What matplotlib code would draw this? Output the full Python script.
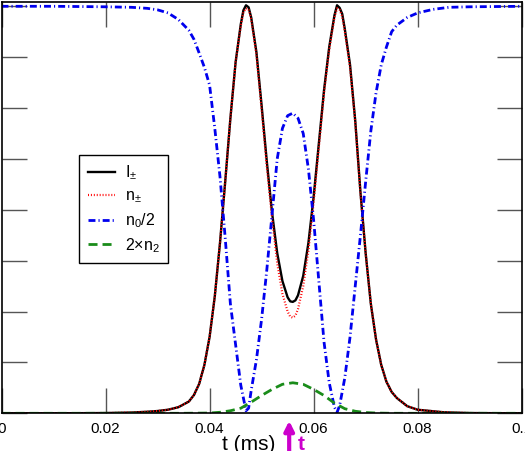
import matplotlib
matplotlib.use("Agg")
import matplotlib.pyplot as plt

plt.rcParams['font.family'] = ['Liberation Sans', 'DejaVu Sans']
plt.rcParams['mathtext.fontset'] = 'custom'
plt.rcParams['mathtext.rm'] = 'Liberation Sans'
plt.rcParams['mathtext.it'] = 'Liberation Sans:italic'
plt.rcParams['mathtext.bf'] = 'Liberation Sans:bold'
plt.rcParams['lines.scale_dashes'] = False

# time axis (ms) for I and n
t_I = [0, 0.01, 0.02, 0.025, 0.028, 0.030, 0.032, 0.034, 0.036, 0.037, 0.038, 0.039,
       0.040, 0.041, 0.042, 0.043, 0.044, 0.045, 0.046, 0.0465, 0.047, 0.0475, 0.048,
       0.049, 0.050, 0.051, 0.052, 0.053, 0.054, 0.055, 0.0555, 0.056, 0.0565, 0.057,
       0.058, 0.059, 0.060, 0.061, 0.062, 0.063, 0.064, 0.0645, 0.065, 0.0655, 0.066,
       0.067, 0.068, 0.069, 0.070, 0.071, 0.072, 0.073, 0.074, 0.075, 0.076, 0.078,
       0.080, 0.085, 0.09, 0.1]
I_pm = [0, 0, 0.005, 0.015, 0.03, 0.045, 0.07, 0.12, 0.23, 0.36, 0.58, 0.95,
        1.5, 2.3, 3.35, 4.55, 5.8, 6.9, 7.65, 7.92, 8.02, 7.98, 7.78,
        7.1, 6.05, 4.95, 3.95, 3.15, 2.6, 2.28, 2.2, 2.19, 2.22, 2.32,
        2.7, 3.35, 4.25, 5.3, 6.35, 7.2, 7.82, 8.02, 7.97, 7.85, 7.55,
        6.85, 5.75, 4.35, 3.15, 2.15, 1.45, 0.95, 0.62, 0.42, 0.3, 0.14,
        0.07, 0.02, 0.005, 0]
n_pm = [0, 0, 0.005, 0.015, 0.03, 0.045, 0.07, 0.12, 0.23, 0.36, 0.58, 0.95,
        1.5, 2.3, 3.35, 4.55, 5.8, 6.9, 7.62, 7.88, 7.96, 7.94, 7.75,
        7.05, 5.98, 4.85, 3.85, 2.95, 2.35, 2.0, 1.9, 1.88, 1.92, 2.05,
        2.5, 3.2, 4.15, 5.22, 6.3, 7.15, 7.78, 7.96, 7.93, 7.8, 7.5,
        6.8, 5.72, 4.33, 3.15, 2.15, 1.45, 0.95, 0.62, 0.42, 0.3, 0.14,
        0.07, 0.02, 0.005, 0]

# n0/2
t_n0 = [0, 0.01, 0.02, 0.025, 0.028, 0.030, 0.032, 0.034, 0.036, 0.037, 0.038, 0.039,
        0.040, 0.041, 0.042, 0.043, 0.044, 0.045, 0.046, 0.047, 0.0475, 0.048, 0.049,
        0.050, 0.051, 0.052, 0.053, 0.054, 0.055, 0.056, 0.057, 0.058, 0.059, 0.060,
        0.061, 0.062, 0.063, 0.064, 0.0645, 0.065, 0.066, 0.067, 0.068, 0.069, 0.070,
        0.071, 0.072, 0.073, 0.074, 0.075, 0.076, 0.078, 0.080, 0.083, 0.086, 0.09, 0.1]
n0_half = [8.0, 8.0, 7.99, 7.98, 7.96, 7.93, 7.87, 7.74, 7.53, 7.35, 7.08, 6.8,
           6.45, 5.6, 4.65, 3.45, 2.15, 1.35, 0.55, 0.05, 0.1, 0.45, 1.05,
           1.85, 2.82, 3.9, 5.0, 5.6, 5.85, 5.9, 5.8, 5.5, 4.8, 3.8,
           2.6, 1.4, 0.6, 0.12, 0.02, 0.15, 0.7, 1.5, 2.5, 3.5, 4.55,
           5.55, 6.3, 6.85, 7.2, 7.5, 7.63, 7.78, 7.87, 7.94, 7.98, 7.99, 8.0]

# 2 x n2
t_n2 = [0, 0.035, 0.040, 0.042, 0.044, 0.046, 0.048, 0.050, 0.052, 0.054, 0.056,
        0.058, 0.060, 0.062, 0.064, 0.066, 0.068, 0.070, 0.072, 0.075, 0.1]
n2_x2 = [0, 0, 0.005, 0.02, 0.05, 0.1, 0.22, 0.35, 0.47, 0.57, 0.6,
         0.57, 0.47, 0.35, 0.2, 0.09, 0.04, 0.015, 0.005, 0, 0]

x_ticks = [0, 0.02, 0.04, 0.06, 0.08, 0.1]
x_labels = ['0', '0.02', '0.04', '0.06', '0.08', '0.1']
y_ticks = [0, 1, 2, 3, 4, 5, 6, 7, 8]
t_mark = 0.0553
magenta = '#cc00cc'

fig = plt.figure(figsize=(5.25, 4.51), dpi=100)
ax = fig.add_axes([0.0029, 0.0836, 0.9908, 0.9126])

ax.plot(t_I, I_pm, color='black', lw=1.7, label=r'$\mathregular{I_{\pm}}$')
ax.plot(t_I, n_pm, color='red', lw=1.6, linestyle=(0, (0.7, 1.4)),
        label=r'$\mathregular{n_{\pm}}$')
ax.plot(t_n0, n0_half, color='#0000ee', lw=2.0, linestyle=(0, (5.0, 2.2, 0.8, 2.2)),
        label=r'$\mathregular{n_0/2}$')
ax.plot(t_n2, n2_x2, color='#1a8c1a', lw=2.0, linestyle=(0, (6.5, 3.6)),
        label=r'$\mathregular{2{\times}n_2}$')

ax.set_xlim(0, 0.1)
ax.set_ylim(0, 8.09)
ax.set_xticks(x_ticks)
ax.set_xticklabels(x_labels)
ax.set_yticks(y_ticks)
ax.tick_params(direction='in', length=18, width=1, color='#555555',
               top=True, right=True, labelleft=False, labelsize=11, pad=6)
for s in ax.spines.values():
    s.set_linewidth(1.2)

ax.set_xlabel('t (ms)', fontsize=15)
ax.xaxis.set_label_coords(0.475, -0.053)

ax.annotate('', xy=(t_mark, -0.0115), xytext=(t_mark, -0.1),
            xycoords=ax.get_xaxis_transform(), textcoords=ax.get_xaxis_transform(),
            arrowprops=dict(arrowstyle='-|>', color=magenta, lw=3, mutation_scale=14),
            annotation_clip=False)
ax.text(t_mark + 0.0017, -0.089, 't', color=magenta, fontsize=15, fontweight='bold',
        transform=ax.get_xaxis_transform(), va='baseline', ha='left')

leg = ax.legend(loc='upper left', bbox_to_anchor=(0.149, 0.628), borderaxespad=0,
                fontsize=11.5, handlelength=1.7, handletextpad=0.6, labelspacing=0.38,
                fancybox=False, framealpha=1, edgecolor='black', borderpad=0.55)
leg.get_frame().set_linewidth(1.0)

fig.savefig('out.png', dpi=100)
